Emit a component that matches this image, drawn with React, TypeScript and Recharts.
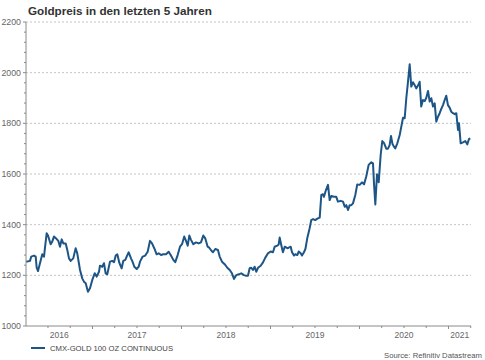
import React from "react";
import { LineChart, Line, XAxis, YAxis, ReferenceLine } from "recharts";

const dates: number[] = [
  2016.255, 2016.298, 2016.312, 2016.343, 2016.362, 2016.373, 2016.388, 2016.410, 2016.436, 2016.455,
  2016.485, 2016.500, 2016.530, 2016.548, 2016.567, 2016.598, 2016.616, 2016.635, 2016.654, 2016.672,
  2016.699, 2016.717, 2016.736, 2016.755, 2016.784, 2016.811, 2016.829, 2016.860, 2016.885, 2016.904,
  2016.924, 2016.949, 2016.972, 2016.998, 2017.025, 2017.047, 2017.073, 2017.084, 2017.110, 2017.129,
  2017.148, 2017.166, 2017.197, 2017.222, 2017.242, 2017.261, 2017.279, 2017.303, 2017.328, 2017.346,
  2017.369, 2017.384, 2017.407, 2017.433, 2017.452, 2017.470, 2017.497, 2017.519, 2017.534, 2017.564,
  2017.593, 2017.620, 2017.646, 2017.669, 2017.694, 2017.721, 2017.744, 2017.770, 2017.796, 2017.826,
  2017.856, 2017.882, 2017.908, 2017.930, 2017.957, 2017.983, 2018.006, 2018.031, 2018.051, 2018.070,
  2018.088, 2018.107, 2018.133, 2018.163, 2018.193, 2018.219, 2018.245, 2018.267, 2018.294, 2018.312,
  2018.339, 2018.354, 2018.380, 2018.410, 2018.429, 2018.455, 2018.485, 2018.515, 2018.542, 2018.567,
  2018.590, 2018.616, 2018.643, 2018.672, 2018.702, 2018.728, 2018.747, 2018.766, 2018.784, 2018.803,
  2018.822, 2018.840, 2018.860, 2018.890, 2018.916, 2018.942, 2018.972, 2019.002, 2019.028, 2019.047,
  2019.076, 2019.092, 2019.103, 2019.121, 2019.140, 2019.160, 2019.189, 2019.204, 2019.227, 2019.242,
  2019.264, 2019.279, 2019.301, 2019.317, 2019.339, 2019.354, 2019.376, 2019.393, 2019.413, 2019.440,
  2019.458, 2019.478, 2019.503, 2019.526, 2019.553, 2019.571, 2019.590, 2019.601, 2019.620, 2019.646,
  2019.665, 2019.683, 2019.713, 2019.739, 2019.758, 2019.789, 2019.815, 2019.834, 2019.852, 2019.871,
  2019.890, 2019.908, 2019.927, 2019.953, 2019.975, 2020.002, 2020.028, 2020.051, 2020.076, 2020.103,
  2020.133, 2020.152, 2020.163, 2020.178, 2020.197, 2020.216, 2020.238, 2020.256, 2020.275, 2020.301,
  2020.320, 2020.339, 2020.354, 2020.371, 2020.388, 2020.402, 2020.425, 2020.452, 2020.470, 2020.489,
  2020.508, 2020.526, 2020.545, 2020.564, 2020.582, 2020.601, 2020.620, 2020.638, 2020.657, 2020.676,
  2020.694, 2020.713, 2020.733, 2020.751, 2020.770, 2020.789, 2020.807, 2020.826, 2020.845, 2020.863,
  2020.882, 2020.901, 2020.919, 2020.938, 2020.957, 2020.975, 2020.994, 2021.013, 2021.031, 2021.051,
  2021.070, 2021.088, 2021.107, 2021.118, 2021.137, 2021.163, 2021.189, 2021.211, 2021.230, 2021.245,
];

const prices: number[] = [
  1254, 1257, 1274, 1278, 1274, 1230, 1217, 1248, 1283, 1274,
  1366, 1357, 1323, 1333, 1353, 1343, 1336, 1313, 1342, 1326,
  1326, 1300, 1267, 1257, 1267, 1307, 1287, 1221, 1188, 1175,
  1169, 1135, 1149, 1182, 1208, 1195, 1214, 1238, 1234, 1248,
  1208, 1204, 1254, 1257, 1252, 1278, 1283, 1248, 1228, 1257,
  1261, 1274, 1291, 1267, 1252, 1234, 1225, 1234, 1254, 1274,
  1278, 1293, 1336, 1326, 1307, 1283, 1287, 1280, 1283, 1283,
  1293, 1278, 1261, 1252, 1280, 1313, 1323, 1353, 1336, 1317,
  1357, 1340, 1323, 1330, 1326, 1330, 1357, 1346, 1313, 1309,
  1296, 1291, 1304, 1300, 1274, 1254, 1244, 1230, 1221, 1208,
  1186, 1201, 1204, 1208, 1201, 1198, 1198, 1228, 1230, 1221,
  1234, 1214, 1230, 1238, 1251, 1270, 1287, 1294, 1291, 1313,
  1317, 1322, 1349, 1320, 1291, 1313, 1307, 1309, 1313, 1291,
  1278, 1283, 1280, 1294, 1287, 1278, 1291, 1305, 1346, 1386,
  1418, 1422, 1418, 1424, 1428, 1517, 1520, 1510, 1533, 1557,
  1497, 1513, 1510, 1510, 1491, 1494, 1491, 1471, 1477, 1458,
  1477, 1477, 1484, 1517, 1559, 1557, 1567, 1559, 1590, 1636,
  1646, 1642, 1563, 1480, 1599, 1567, 1675, 1730, 1723, 1700,
  1700, 1714, 1750, 1718, 1708, 1701, 1721, 1754, 1787, 1822,
  1820, 1899, 1964, 2033, 1945, 1962, 1951, 1938, 1949, 1964,
  1866, 1892, 1888, 1901, 1928, 1886, 1899, 1866, 1879, 1807,
  1826, 1840, 1857, 1872, 1892, 1909, 1872, 1862, 1846, 1840,
  1836, 1840, 1774, 1800, 1721, 1725, 1730, 1717, 1738, 1741,
];

const startT = 2016.253;
const endT = 2021.253;
const years: number[] = [2016, 2017, 2018, 2019, 2020, 2021];
const yTicks: number[] = [1000, 1200, 1400, 1600, 1800, 2000, 2200];
const seriesName = "CMX-GOLD 100 OZ CONTINUOUS";
const title = "Goldpreis in den letzten 5 Jahren";
const source = "Source: Refinitiv Datastream";

const data = dates.map((t, i) => ({ t, v: prices[i] }));

const LINE = "#1d5586";
const AXIS = "#8a8a8a";
const FONT = "'Liberation Sans', Arial, sans-serif";

// minor y ticks every 40
const yAllTicks: number[] = [];
for (let v = 1000; v <= 2200; v += 40) yAllTicks.push(v);

// quarter ticks on x
const xQuarterTicks: number[] = [];
for (let q = 2016.5; q <= endT; q += 0.25) xQuarterTicks.push(Math.round(q * 100) / 100);
const xLabels = years.map((y) => ({
  pos: (Math.max(y, startT) + Math.min(y + 1, endT)) / 2 + 0.0001,
  text: String(y),
}));
const xAllTicks = [...xQuarterTicks, ...xLabels.map((l) => l.pos)].sort((a, b) => a - b);

const XTick = (props: any) => {
  const { x, y, payload } = props;
  const v = payload.value as number;
  const lbl = xLabels.find((l) => Math.abs(l.pos - v) < 1e-7);
  if (lbl) {
    return (
      <text x={x} y={y + 12} textAnchor="middle" fontSize={8.5} fill="#666" fontFamily={FONT}>
        {lbl.text}
      </text>
    );
  }
  const major = Math.abs(v - Math.round(v)) < 1e-6;
  return <line x1={x} x2={x} y1={y} y2={y + (major ? 3 : 2)} stroke={AXIS} strokeWidth={1} />;
};

const YTick = (props: any) => {
  const { x, y, payload } = props;
  const v = payload.value as number;
  const major = v % 200 === 0;
  return (
    <g>
      <line x1={x - (major ? 3 : 2)} x2={x} y1={y} y2={y} stroke={AXIS} strokeWidth={1} />
      {major && (
        <text x={x - 5} y={y + 3} textAnchor="end" fontSize={8.8} fill="#666" fontFamily={FONT}>
          {v}
        </text>
      )}
    </g>
  );
};

export default function App() {
  return (
    <div
      style={{
        position: "absolute",
        left: 0,
        top: 0,
        width: 485,
        height: 360,
        background: "#fff",
        overflow: "hidden",
      }}
    >
      <LineChart
        width={485}
        height={360}
        data={data}
        margin={{ top: 22, right: 14, bottom: 14, left: 0 }}
      >
        {yTicks.slice(1).map((v) => (
          <ReferenceLine key={v} y={v} stroke="#c4c4c4" strokeDasharray="2 2" strokeWidth={1} />
        ))}
        <XAxis
          dataKey="t"
          type="number"
          domain={[startT, endT]}
          ticks={xAllTicks}
          interval={0}
          tickSize={0}
          tickMargin={0}
          tickLine={false}
          tick={<XTick />}
          height={20}
          stroke={AXIS}
          allowDataOverflow
        />
        <YAxis
          type="number"
          domain={[1000, 2200]}
          ticks={yAllTicks}
          interval={0}
          tickSize={0}
          tickMargin={0}
          tickLine={false}
          tick={<YTick />}
          width={26}
          stroke={AXIS}
          allowDataOverflow
        />
        <Line
          type="linear"
          dataKey="v"
          stroke={LINE}
          strokeWidth={2}
          dot={false}
          isAnimationActive={false}
          strokeLinejoin="round"
        />
      </LineChart>
      <svg
        width={485}
        height={360}
        style={{ position: "absolute", left: 0, top: 0, pointerEvents: "none" }}
      >
        <text x={28} y={15} fontSize={11.7} fontWeight="bold" fill="#333" fontFamily={FONT}>
          {title}
        </text>
        <line x1={31} x2={45} y1={348} y2={348} stroke={LINE} strokeWidth={2} />
        <text x={50} y={351} fontSize={7.7} fill="#444" fontFamily={FONT}>
          {seriesName}
        </text>
        <text x={384} y={358} fontSize={7.7} fill="#555" fontFamily={FONT}>
          {source}
        </text>
      </svg>
    </div>
  );
}
